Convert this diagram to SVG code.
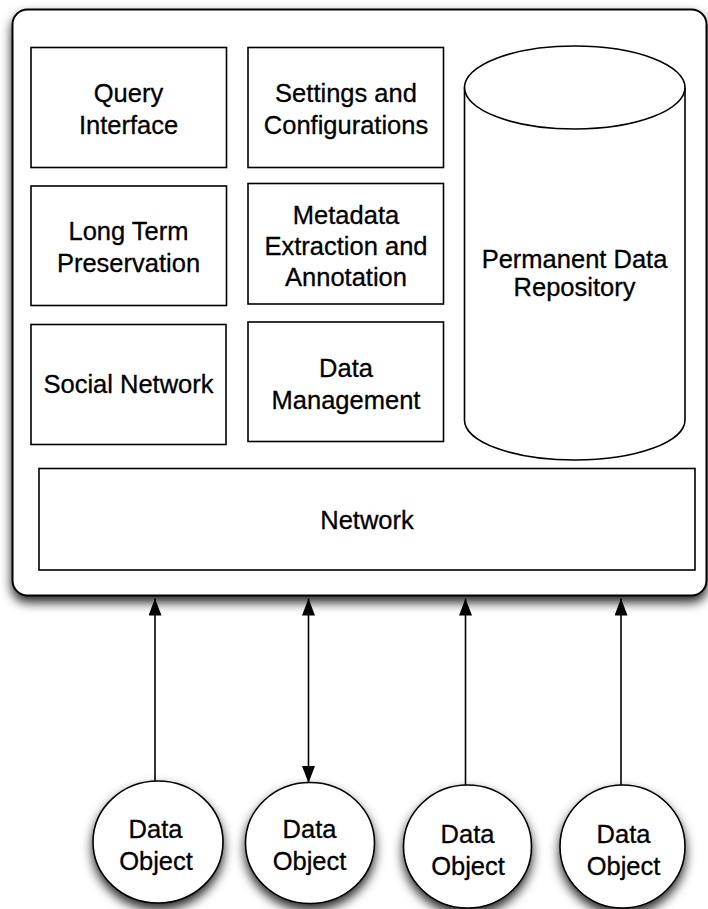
<svg xmlns="http://www.w3.org/2000/svg" width="708" height="909" viewBox="0 0 708 909">
  <style>
    .box { fill: #ffffff; stroke: #000000; stroke-width: 1.6; }
    .frame { fill: #ffffff; stroke: #000000; stroke-width: 2; }
    .obj { fill: #ffffff; stroke: #000000; stroke-width: 1.6; }
    .lbl { font-family: "Liberation Sans", Arial, Helvetica, sans-serif; font-size: 25.5px; fill: #000000; stroke: #000000; stroke-width: 0.3; text-anchor: middle; }
    .conn { stroke: #000000; stroke-width: 1.6; fill: none; }
  </style>
  <defs>
    <filter id="shadow" x="-10%" y="-10%" width="120%" height="125%">
      <feDropShadow dx="0" dy="6" stdDeviation="5.5" flood-color="#000000" flood-opacity="0.85"/>
    </filter>
    <marker id="head" viewBox="0 0 17 13" refX="17" refY="6.5" markerWidth="17" markerHeight="13" markerUnits="userSpaceOnUse" orient="auto-start-reverse">
      <path d="M0,0 L17,6.5 L0,13 z" fill="#000000"/>
    </marker>
  </defs>

  <!-- system frame -->
  <g id="system">
    <rect class="frame" x="12.5" y="9.5" width="694" height="586" rx="15" ry="15" filter="url(#shadow)"/>
  </g>

  <g id="query-interface">
    <rect class="box" x="31" y="47.5" width="195.5" height="120"/>
    <text class="lbl" x="128.5" y="102">Query</text>
    <text class="lbl" x="128.5" y="134">Interface</text>
  </g>

  <g id="settings">
    <rect class="box" x="248" y="47.5" width="195.5" height="120"/>
    <text class="lbl" x="346" y="102">Settings and</text>
    <text class="lbl" x="346" y="134">Configurations</text>
  </g>

  <g id="long-term-preservation">
    <rect class="box" x="31" y="186" width="195.5" height="119.5"/>
    <text class="lbl" x="128.5" y="240">Long Term</text>
    <text class="lbl" x="128.5" y="272">Preservation</text>
  </g>

  <g id="metadata">
    <rect class="box" x="248" y="183.5" width="195.5" height="120.5"/>
    <text class="lbl" x="346" y="224">Metadata</text>
    <text class="lbl" x="346" y="255">Extraction and</text>
    <text class="lbl" x="346" y="286">Annotation</text>
  </g>

  <g id="social-network">
    <rect class="box" x="31" y="324.5" width="195" height="120"/>
    <text class="lbl" x="128.5" y="393">Social Network</text>
  </g>

  <g id="data-management">
    <rect class="box" x="248" y="322" width="195.5" height="119.5"/>
    <text class="lbl" x="346" y="377">Data</text>
    <text class="lbl" x="346" y="409">Management</text>
  </g>

  <g id="repository">
    <path class="box" d="M464.5,87.5 L464.5,420 A110.25,40 0 0 0 685,420 L685,87.5"/>
    <ellipse class="box" cx="574.75" cy="87.5" rx="110.25" ry="41.5"/>
    <text class="lbl" x="574.5" y="268">Permanent Data</text>
    <text class="lbl" x="574.5" y="296">Repository</text>
  </g>

  <g id="network">
    <rect class="box" x="39" y="468.5" width="656" height="101.5"/>
    <text class="lbl" x="367" y="529">Network</text>
  </g>

  <!-- connectors between data objects and the network layer -->
  <g id="connectors">
    <line class="conn" x1="155" y1="782" x2="155" y2="598.5" marker-end="url(#head)"/>
    <line class="conn" x1="308.5" y1="783" x2="308.5" y2="598.5" marker-start="url(#head)" marker-end="url(#head)"/>
    <line class="conn" x1="465.5" y1="785" x2="465.5" y2="598.5" marker-end="url(#head)"/>
    <line class="conn" x1="621" y1="785" x2="621" y2="598.5" marker-end="url(#head)"/>
  </g>

  <g id="data-object-1">
    <ellipse class="obj" cx="158" cy="842" rx="65" ry="61" filter="url(#shadow)"/>
    <text class="lbl" x="155.5" y="838">Data</text>
    <text class="lbl" x="156" y="870">Object</text>
  </g>

  <g id="data-object-2">
    <ellipse class="obj" cx="310" cy="843" rx="64.5" ry="60.5" filter="url(#shadow)"/>
    <text class="lbl" x="309.5" y="838">Data</text>
    <text class="lbl" x="309.5" y="870">Object</text>
  </g>

  <g id="data-object-3">
    <ellipse class="obj" cx="467.5" cy="846.5" rx="64" ry="61.5" filter="url(#shadow)"/>
    <text class="lbl" x="467.5" y="843">Data</text>
    <text class="lbl" x="468" y="875">Object</text>
  </g>

  <g id="data-object-4">
    <ellipse class="obj" cx="622.5" cy="846.5" rx="62.5" ry="61.5" filter="url(#shadow)"/>
    <text class="lbl" x="623.5" y="843">Data</text>
    <text class="lbl" x="623.5" y="875">Object</text>
  </g>
</svg>
